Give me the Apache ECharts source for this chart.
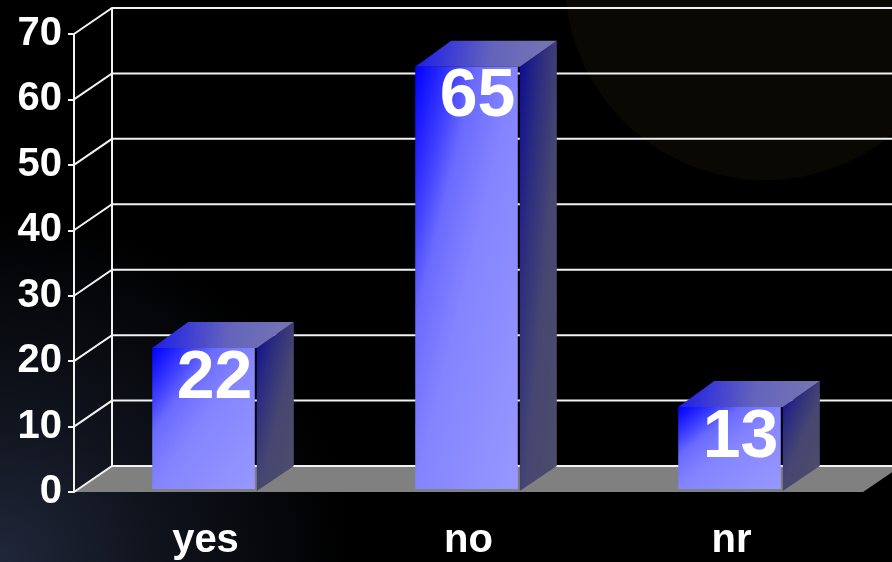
<!DOCTYPE html>
<html><head><meta charset="utf-8">
<script src="https://cdn.jsdelivr.net/npm/echarts@6/dist/echarts.min.js"></script>
<style>html,body{margin:0;padding:0;background:#000}#c{width:892px;height:562px}</style>
</head><body><div id="c"></div>
<script>
const categories = ['yes', 'no', 'nr'];
const values = [22, 65, 13];
const yTicks = [0, 10, 20, 30, 40, 50, 60, 70];

const DX = 38, DY = -26;
const FONT = '"Liberation Sans", Arial, Helvetica, sans-serif';
const chart = echarts.init(document.getElementById('c'));

// corner-to-corner gradient whose isolines run along the box anti-diagonal
function cornerGrad(x, y, w, h, stops) {
  const n = Math.sqrt(w * w + h * h);
  const dx = h / n, dy = w / n;
  const L = 2 * w * h / n;
  return {type: 'linear', global: true, x: x, y: y, x2: x + dx * L, y2: y + dy * L, colorStops: stops};
}

function gridRender(params, api) {
  const cs = params.coordSys;
  const x0 = cs.x, x1 = cs.x + cs.width;
  const y0 = api.coord([0, 0])[1];
  const yTop = api.coord([0, yTicks[yTicks.length - 1]])[1];
  const children = [];
  children.push({type: 'polygon', shape: {points: [[x0, y0], [x0 + DX, y0 + DY], [x1 + DX, y0 + DY], [x1, y0]]}, style: {fill: '#808080'}});
  children.push({type: 'line', shape: {x1: x0 + DX, y1: yTop + DY, x2: x0 + DX, y2: y0 + DY}, style: {stroke: '#f2f2f2', lineWidth: 2}});
  yTicks.forEach(function (t) {
    const y = api.coord([0, t])[1];
    children.push({type: 'polyline', shape: {points: [[x0, y], [x0 + DX, y + DY], [x1 + DX + 20, y + DY]]}, style: {stroke: '#f2f2f2', lineWidth: 2, fill: null}});
  });
  return {type: 'group', children: children};
}

function barRender(params, api) {
  const idx = api.value(0), v = api.value(1);
  const top = api.coord([idx, v]);
  const base = api.coord([idx, 0]);
  const band = api.size([1, 0])[0];
  const w = band * 0.39;
  const xl = top[0] - w / 2 - 2, xr = xl + w;
  const yt = top[1], yb = base[1] - 3;
  const sx = xr + 2, sw = DX - 1;
  const side = {type: 'polygon', shape: {points: [[sx, yt], [sx + sw, yt + DY], [sx + sw, base[1] + DY], [sx, base[1] - 1]]},
    style: {fill: cornerGrad(sx, yt + DY, sw, base[1] - yt, [{offset: 0, color: '#0a0a94'}, {offset: 0.3, color: '#2c2c80'}, {offset: 0.6, color: '#464672'}, {offset: 1, color: '#4c4c6a'}])}};
  const topFace = {type: 'polygon', shape: {points: [[xl, yt], [xl + DX - 2, yt + DY], [xr + DX + 1, yt + DY], [xr + 2, yt]]},
    style: {fill: {type: 'linear', x: 0, y: 0, x2: 1, y2: 0.6, colorStops: [{offset: 0, color: '#1c1ce8'}, {offset: 0.55, color: '#6464bc'}, {offset: 1, color: '#7676b2'}]}}};
  const front = {type: 'rect', shape: {x: xl, y: yt, width: w, height: yb - yt},
    style: {fill: cornerGrad(xl, yt, w, yb - yt, [{offset: 0, color: '#0000ff'}, {offset: 0.1, color: '#2020ff'}, {offset: 0.2, color: '#4242ff'}, {offset: 0.3, color: '#6a6aff'}, {offset: 0.5, color: '#8484ff'}, {offset: 1, color: '#9898ff'}])}};
  const label = {type: 'text', x: (xl + xr) / 2 + 11, y: yt - 3,
    style: {text: String(v), fill: '#ffffff', font: 'bold 68px ' + FONT, align: 'center', verticalAlign: 'top'}};
  return {type: 'group', children: [side, topFace, front, label]};
}

chart.setOption({
  backgroundColor: {type: 'radial', x: 0, y: 1, r: 0.62, colorStops: [{offset: 0, color: '#20273a'}, {offset: 0.45, color: '#0f131c'}, {offset: 1, color: '#000000'}]},
  animation: false,
  graphic: [{type: 'circle', silent: true, z: -10, shape: {cx: 765, cy: -20, r: 200}, style: {fill: '#0a0803'}}],
  grid: {left: 74, right: 29, top: 34, bottom: 70},
  xAxis: {
    type: 'category', data: categories,
    axisLine: {show: false}, axisTick: {show: false}, splitLine: {show: false},
    axisLabel: {color: '#ffffff', fontSize: 40, fontWeight: 'bold', fontFamily: FONT, margin: 29}
  },
  yAxis: {
    type: 'value', min: 0, max: 70, interval: 10,
    axisLine: {show: true, lineStyle: {color: '#f2f2f2', width: 2}},
    axisTick: {show: true, length: 6, lineStyle: {color: '#f2f2f2', width: 2}},
    splitLine: {show: false},
    axisLabel: {color: '#ffffff', fontSize: 40, fontWeight: 'bold', fontFamily: FONT, margin: 12}
  },
  series: [
    {type: 'custom', renderItem: gridRender, data: [[0, 0]], z: 1, silent: true},
    {type: 'custom', renderItem: barRender, data: categories.map(function (c, i) { return [i, values[i]]; }), z: 3, silent: true}
  ]
});
</script></body></html>
